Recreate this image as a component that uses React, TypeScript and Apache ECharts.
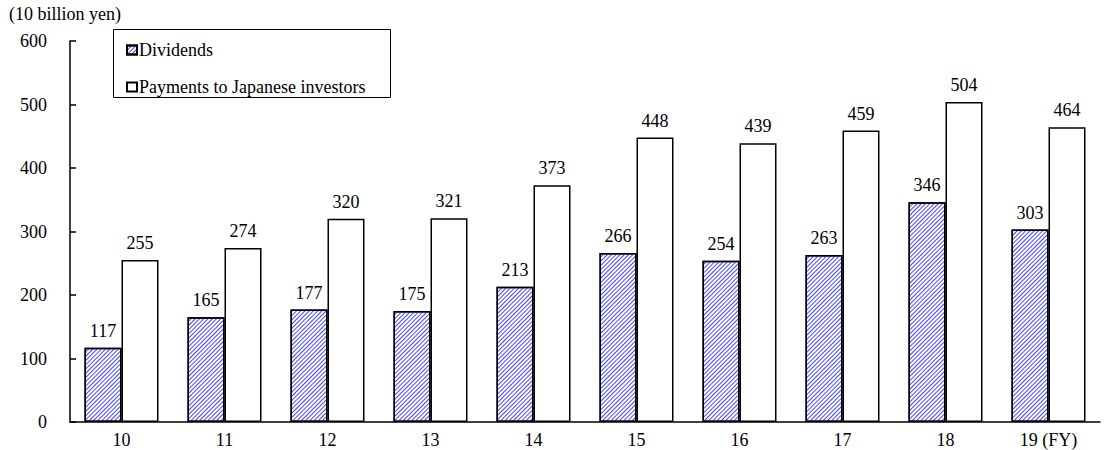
import React, { useEffect, useRef } from "react";
import * as echarts from "echarts";

const categories = ["10", "11", "12", "13", "14", "15", "16", "17", "18", "19 (FY)"];
const dividends = [117, 165, 177, 175, 213, 266, 254, 263, 346, 303];
const payments = [255, 274, 320, 321, 373, 448, 439, 459, 504, 464];
const yTicks = [0, 100, 200, 300, 400, 500, 600];

const FONT = "Liberation Serif";
const FS = 18;

export default function App() {
  const ref = useRef<HTMLDivElement>(null);
  useEffect(() => {
    if (!ref.current) return;
    const chart = echarts.init(ref.current, null, { renderer: "svg" });
    chart.setOption({
      animation: false,
      textStyle: { fontFamily: FONT, color: "#000" },
      grid: { left: 70, right: 10, top: 41, bottom: 28 },
      graphic: [
        {
          type: "text",
          left: 9,
          top: 5,
          style: { text: "(10 billion yen)", fontFamily: FONT, fontSize: FS, fill: "#000" },
        },
        {
          type: "rect",
          shape: { x: 113.5, y: 29.5, width: 277, height: 68 },
          style: { fill: "#fff", stroke: "#000", lineWidth: 1 },
          z: 10,
        },
      ],
      legend: {
        orient: "vertical",
        left: 121,
        top: 36,
        itemWidth: 10,
        itemHeight: 9,
        itemGap: 19,
        z: 20,
        textStyle: { fontFamily: FONT, fontSize: FS, color: "#000", padding: [0, 0, 0, -3] },
        data: [
          { name: "Dividends", icon: "rect" },
          { name: "Payments to Japanese investors", icon: "rect" },
        ],
      },
      xAxis: {
        type: "category",
        data: categories,
        axisLine: { lineStyle: { color: "#000", width: 1.5 } },
        axisTick: { inside: true, length: 6, lineStyle: { color: "#000", width: 1.5 } },
        axisLabel: { fontFamily: FONT, fontSize: FS, color: "#000", margin: 9 },
      },
      yAxis: {
        type: "value",
        min: yTicks[0],
        max: yTicks[yTicks.length - 1],
        interval: 100,
        splitLine: { show: false },
        axisLine: { show: true, lineStyle: { color: "#000", width: 1.5 } },
        axisTick: { show: true, inside: true, length: 6, lineStyle: { color: "#000", width: 1.5 } },
        axisLabel: { fontFamily: FONT, fontSize: FS, color: "#000", margin: 23 },
      },
      series: [
        {
          name: "Dividends",
          type: "bar",
          data: dividends,
          barWidth: 37,
          barGap: "0%",
          itemStyle: {
            color: "#ffffff",
            borderColor: "#000",
            borderWidth: 1.5,
            decal: {
              symbol: "rect",
              color: "#4646ff",
              dashArrayX: [1, 0],
              dashArrayY: [1, 2],
              rotation: -Math.PI / 4,
              symbolSize: 1,
            },
          },
          label: { show: true, position: "top", distance: 8, fontFamily: FONT, fontSize: FS, color: "#000" },
        },
        {
          name: "Payments to Japanese investors",
          type: "bar",
          data: payments,
          barWidth: 37,
          barGap: "0%",
          itemStyle: { color: "#ffffff", borderColor: "#000", borderWidth: 1.5 },
          label: { show: true, position: "top", distance: 8, fontFamily: FONT, fontSize: FS, color: "#000" },
        },
      ],
    });
    return () => chart.dispose();
  }, []);
  return <div ref={ref} style={{ width: 1110, height: 450, position: "absolute", left: 0, top: 0 }} />;
}
